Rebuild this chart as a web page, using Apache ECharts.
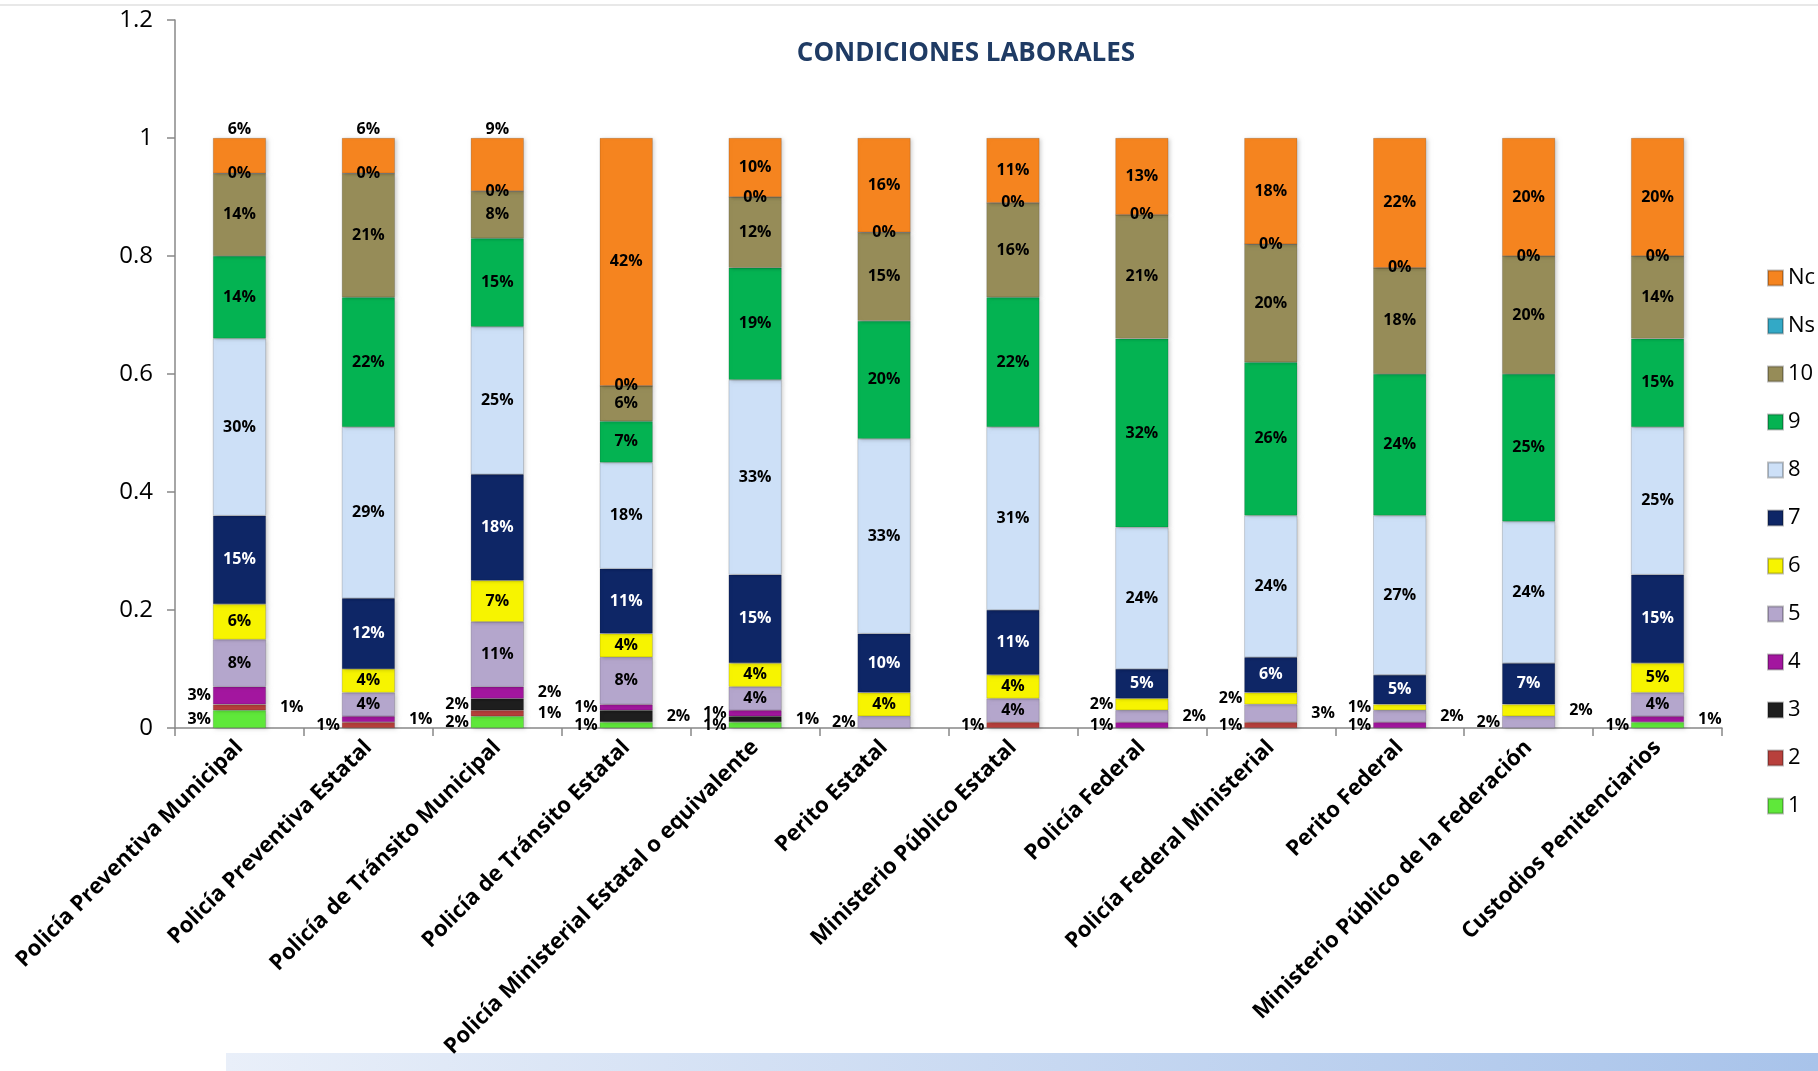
<!DOCTYPE html>
<html>
<head>
<meta charset="utf-8">
<script src="https://cdn.jsdelivr.net/npm/echarts@6/dist/echarts.min.js"></script>
<style>
html,body{margin:0;padding:0;background:#fff;}
#chart{width:1818px;height:1071px;}
</style>
</head>
<body>
<div id="chart"></div>
<script>
const categories = [
  'Policía Preventiva Municipal',
  'Policía Preventiva Estatal',
  'Policía de Tránsito Municipal',
  'Policía de Tránsito Estatal',
  'Policía Ministerial Estatal o equivalente',
  'Perito Estatal',
  'Ministerio Público Estatal',
  'Policía Federal',
  'Policía Federal Ministerial',
  'Perito Federal',
  'Ministerio Público de la Federación',
  'Custodios Penitenciarios'
];
const seriesNames = ['1','2','3','4','5','6','7','8','9','10','Ns','Nc'];
const yTicks = [0, 0.2, 0.4, 0.6, 0.8, 1, 1.2];

const s1  = [0.03, null, 0.02, 0.01, 0.01, null, null, null, null, null, null, 0.01];
const s2  = [0.01, 0.01, 0.01, null, null, null, 0.01, null, 0.01, null, null, null];
const s3  = [null, null, 0.02, 0.02, 0.01, null, null, null, null, null, null, null];
const s4  = [0.03, 0.01, 0.02, 0.01, 0.01, null, null, 0.01, null, 0.01, null, 0.01];
const s5  = [0.08, 0.04, 0.11, 0.08, 0.04, 0.02, 0.04, 0.02, 0.03, 0.02, 0.02, 0.04];
const s6  = [0.06, 0.04, 0.07, 0.04, 0.04, 0.04, 0.04, 0.02, 0.02, 0.01, 0.02, 0.05];
const s7  = [0.15, 0.12, 0.18, 0.11, 0.15, 0.10, 0.11, 0.05, 0.06, 0.05, 0.07, 0.15];
const s8  = [0.30, 0.29, 0.25, 0.18, 0.33, 0.33, 0.31, 0.24, 0.24, 0.27, 0.24, 0.25];
const s9  = [0.14, 0.22, 0.15, 0.07, 0.19, 0.20, 0.22, 0.32, 0.26, 0.24, 0.25, 0.15];
const s10 = [0.14, 0.21, 0.08, 0.06, 0.12, 0.15, 0.16, 0.21, 0.20, 0.18, 0.20, 0.14];
const sNs = [0, 0, 0, 0, 0, 0, 0, 0, 0, 0, 0, 0];
const sNc = [0.06, 0.06, 0.09, 0.42, 0.10, 0.16, 0.11, 0.13, 0.18, 0.22, 0.20, 0.20];

const allValues = [s1, s2, s3, s4, s5, s6, s7, s8, s9, s10, sNs, sNc];
const colors = ['#5fe83a','#b8403c','#1e1e1e','#a3169f','#b4a6cc','#f7f400','#0e2666','#cde0f7','#04b352','#968c58','#33a9c6','#f5841f'];
const labelColors = ['#000','#000','#000','#000','#000','#000','#fff','#000','#000','#000','#000','#000'];
const FONT = '"Open Sans"';

// label placement for small segments (outside, alternating sides)
const smallCount = categories.map(() => 0);
function labelFor(si, ci, v) {
  if (v === null || v === undefined) return {show: false};
  if (si === 11) return {position: v < 0.1 ? 'top' : 'inside', distance: 1};
  if (si === 10) return {position: 'inside'};
  if (si <= 5 && v <= 0.03) {
    const side = smallCount[ci] % 2 === 0 ? 'left' : 'right';
    smallCount[ci]++;
    return {position: side, distance: side === 'left' ? 2 : 14};
  }
  return {position: 'inside'};
}

const series = seriesNames.map((name, si) => ({
  name: name,
  type: 'bar',
  stack: 'total',
  barWidth: 53,
  itemStyle: {color: colors[si], borderColor: 'rgba(0,0,0,0.25)', borderWidth: 0.6,
              shadowColor: 'rgba(0,0,0,0.18)', shadowBlur: 4, shadowOffsetX: 2, shadowOffsetY: 1},
  label: {
    show: true,
    color: labelColors[si],
    fontFamily: FONT,
    fontWeight: 'bold',
    fontSize: 16,
    formatter: p => Math.round(p.value * 100) + '%'
  },
  data: allValues[si].map((v, ci) => ({value: v === null ? '-' : v, label: labelFor(si, ci, v)}))
}));

const chart = echarts.init(document.getElementById('chart'));
chart.setOption({
  animation: false,
  backgroundColor: '#fff',
  title: {
    text: 'CONDICIONES LABORALES',
    left: 961, top: 36, textAlign: 'center',
    textStyle: {color: '#1f3b64', fontSize: 26, fontWeight: 'bold', fontFamily: FONT}
  },
  legend: {
    orient: 'vertical',
    left: 1762, top: 262,
    itemWidth: 15, itemHeight: 15, itemGap: 26,
    icon: 'rect',
    data: seriesNames.slice().reverse(),
    textStyle: {fontSize: 22, color: '#000', fontFamily: FONT}
  },
  grid: {left: 175, right: 96, top: 20, bottom: 343},
  xAxis: {
    type: 'category',
    data: categories,
    axisLine: {lineStyle: {color: '#888', width: 1.5}},
    axisTick: {show: true, length: 8, lineStyle: {color: '#888', width: 1.5}},
    axisLabel: {rotate: 45, interval: 0, fontSize: 22, fontWeight: 'bold', color: '#000', fontFamily: FONT, margin: 16}
  },
  yAxis: {
    type: 'value',
    min: yTicks[0], max: yTicks[yTicks.length - 1], interval: 0.2,
    splitLine: {show: false},
    axisLine: {show: true, lineStyle: {color: '#888', width: 1.5}},
    axisTick: {show: true, length: 8, lineStyle: {color: '#888', width: 1.5}},
    axisLabel: {fontSize: 24, color: '#000', fontFamily: FONT, margin: 22}
  },
  graphic: [
    {type: 'rect', shape: {x: 0, y: 4, width: 1818, height: 2}, style: {fill: '#e8e8e8'}},
    {type: 'rect', shape: {x: 226, y: 1053, width: 1592, height: 18},
     style: {fill: new echarts.graphic.LinearGradient(0, 0, 1, 0, [{offset: 0, color: '#e9eff9'}, {offset: 1, color: '#a8c3ea'}])}}
  ],
  series: series
});
</script>
</body>
</html>
